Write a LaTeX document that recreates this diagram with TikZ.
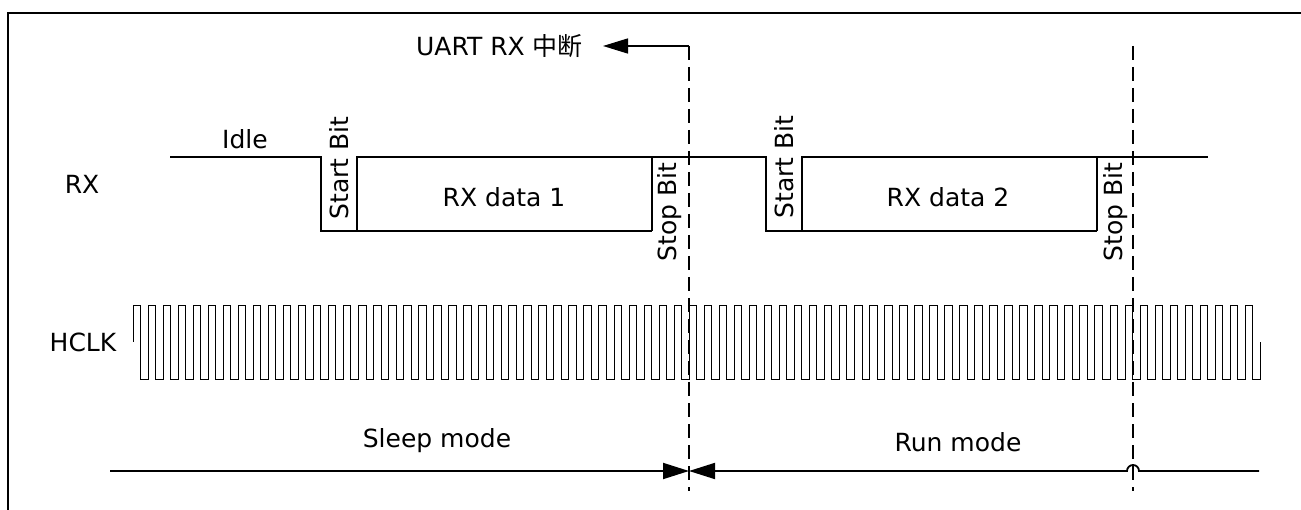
\documentclass[tikz,border=0pt]{standalone}
\usepackage{fontspec}
\setmainfont{DejaVu Sans}
\newfontfamily\cjk{Noto Sans CJK SC}
\usetikzlibrary{arrows.meta}
\begin{document}
\begin{tikzpicture}[x=1pt,y=-1pt,
  lbl/.style={inner sep=0pt,font=\fontsize{25}{29}\selectfont},
  frameline/.style={line width=2.2pt},
  sig/.style={line width=1.5pt},
  clk/.style={line width=0.9pt},
  guide/.style={line width=1.8pt,dash pattern=on 14pt off 7pt},
  modeline/.style={line width=1.8pt},
  tri/.style={-{Triangle[length=25pt,width=15pt]}},
  tri2/.style={-{Triangle[length=26pt,width=16pt]}}]
\useasboundingbox (0,0) rectangle (1301,510);
% frame
\draw[frameline] (8,510) -- (8,13) -- (1301,13);
% labels
\node[lbl] (rxl) at (82,184) {RX};
\node[lbl] (hclk) at (83,342) {HCLK};
\node[lbl] (idle) at (245,139) {Idle};
\node[lbl,anchor=east] (uart) at (583,46) {UART RX {\cjk 中断}};
\node[lbl,rotate=90] (sb1) at (339,168) {Start Bit};
\node[lbl,rotate=90] (sb2) at (784,167) {Start Bit};
\node[lbl,rotate=90] (st1) at (670,212) {Stop Bit};
\node[lbl,rotate=90] (st2) at (1116,212) {Stop Bit};
\node[lbl] (d1) at (504,197) {RX data 1};
\node[lbl] (d2) at (948,197) {RX data 2};
\node[lbl] (sleep) at (437,441) {Sleep mode};
\node[lbl] (run) at (958,442) {Run mode};
% RX waveform
\draw[sig] (170,157) -- (321,157) -- (321,231) -- (652,231);
\draw[sig] (357,231) -- (357,157) -- (766,157) -- (766,231) -- (1097,231);
\draw[sig] (652,231) -- (652,157);
\draw[sig] (802,231) -- (802,157) -- (1208,157);
\draw[sig] (1097,231) -- (1097,157);
% HCLK
\draw[clk] (133,342) -- (133,305)
  \foreach \i in {1,...,74}{ -- ++(7.515,0) -- ++(0,74) -- ++(7.515,0) -- ++(0,-74) }
  -- ++(7.515,0) -- ++(0,74) -- ++(7.515,0) -- ++(0,-37);
% guide lines
\coordinate (g1t) at (689,46);
\coordinate (g1b) at (689,491);
\coordinate (g2t) at (1133,46);
\coordinate (g2b) at (1133,491);
\draw[guide] (g1t) -- (g1b);
\draw[guide] (g2t) -- (g2b);
\draw[sig,tri] (g1t) -- ([xshift=20pt]uart.east);
% mode line
\coordinate (mid) at (689,471);
\coordinate (ml) at (110,471);
\coordinate (mr) at (1259,471);
\draw[modeline,tri2] (ml) -- (mid);
\draw[modeline,tri2] (mr) -- (1139,471) arc[start angle=0,end angle=-180,radius=6] -- (mid);
\end{tikzpicture}
\end{document}
